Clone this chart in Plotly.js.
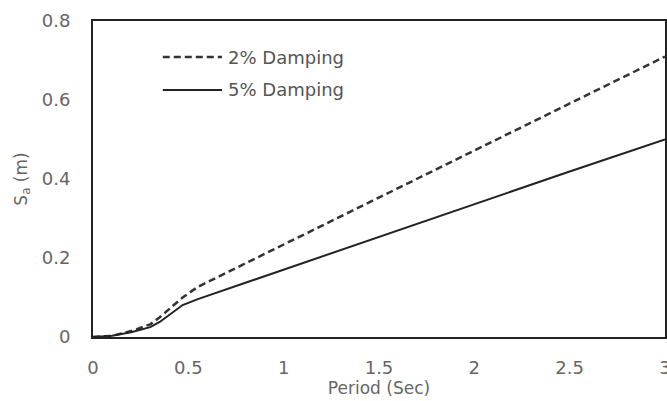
<!DOCTYPE html>
<html>
<head>
<meta charset="utf-8">
<script src="https://cdn.plot.ly/plotly-3.0.1.min.js"></script>
<style>html,body{margin:0;padding:0;background:#fff;}#chart{width:667px;height:401px;}</style>
</head>
<body>
<div id="chart"></div>
<script>
var period = [0, 0.1, 0.2, 0.3, 0.35, 0.4, 0.47, 0.55, 1.0, 1.5, 2.0, 2.5, 3.0];
var damping2 = [0, 0.003, 0.015, 0.032, 0.05, 0.07, 0.10, 0.127, 0.234, 0.353, 0.472, 0.591, 0.71];
var damping5 = [0, 0.003, 0.012, 0.025, 0.038, 0.055, 0.081, 0.096, 0.171, 0.254, 0.336, 0.419, 0.50];
var xTicks = [0, 0.5, 1, 1.5, 2, 2.5, 3];
var xTickText = ["0", "0.5", "1", "1.5", "2", "2.5", "3"];
var yTicks = [0, 0.2, 0.4, 0.6, 0.8];
var yTickText = ["0", "0.2", "0.4", "0.6", "0.8"];
var seriesNames = ["2% Damping", "5% Damping"];
var seriesDash = ["7px,4px", "solid"];
var seriesColor = ["#333", "#222"];
var seriesWidth = [2.5, 2];

var fam = "DejaVu Sans, Verdana, sans-serif";
var textColor = "#666";
var traces = [
  {x: period, y: damping2, name: seriesNames[0], mode: "lines", type: "scatter", showlegend: false,
   line: {color: seriesColor[0], width: seriesWidth[0], dash: seriesDash[0]}},
  {x: period, y: damping5, name: seriesNames[1], mode: "lines", type: "scatter", showlegend: false,
   line: {color: seriesColor[1], width: seriesWidth[1], dash: seriesDash[1]}}
];

// manual legend (paper coordinates)
var legX0 = 0.122, legX1 = 0.2255, legTextX = 0.232;
var legY = [0.886, 0.782];
var shapes = [], annotations = [];
for (var i = 0; i < seriesNames.length; i++) {
  shapes.push({type: "line", xref: "paper", yref: "paper", x0: legX0, x1: legX1, y0: legY[i], y1: legY[i],
               line: {color: seriesColor[i], width: seriesWidth[i], dash: seriesDash[i]}});
  annotations.push({xref: "paper", yref: "paper", x: legTextX, y: legY[i], xanchor: "left", yanchor: "middle",
                    text: seriesNames[i], showarrow: false, font: {family: fam, size: 18, color: "#555"}});
}

var layout = {
  width: 667, height: 401,
  margin: {l: 93, r: 2, t: 21, b: 64},
  paper_bgcolor: "#fff", plot_bgcolor: "#fff",
  font: {family: fam, size: 18, color: textColor},
  showlegend: false,
  shapes: shapes,
  annotations: annotations,
  xaxis: {range: [0, 3], tickvals: xTicks, ticktext: xTickText, showgrid: false, zeroline: false,
          showline: true, linecolor: "#222", linewidth: 2, mirror: true, ticks: "",
          ticklabelstandoff: 13, ticklabeloverflow: "allow",
          tickfont: {family: fam, size: 18, color: textColor},
          title: {text: "Period (Sec)", font: {family: fam, size: 17, color: textColor}, standoff: 3}},
  yaxis: {range: [0, 0.8], tickvals: yTicks, ticktext: yTickText, showgrid: false, zeroline: false,
          showline: true, linecolor: "#222", linewidth: 2, mirror: true, ticks: "",
          ticklabelstandoff: 17, ticklabeloverflow: "allow",
          tickfont: {family: fam, size: 18, color: textColor},
          title: {text: "S<sub>a</sub> (m)", font: {family: fam, size: 17, color: textColor}, standoff: 10}}
};
Plotly.newPlot("chart", traces, layout, {displayModeBar: false, staticPlot: true});
</script>
</body>
</html>
